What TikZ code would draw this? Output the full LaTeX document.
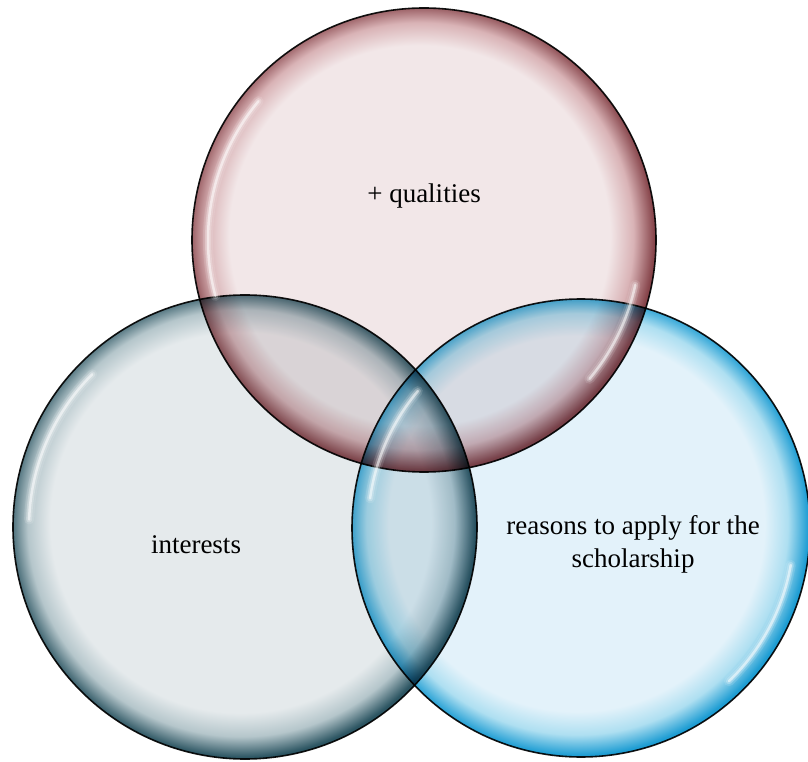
\documentclass[tikz,border=0pt]{standalone}
\usepackage{fontspec}
\setmainfont{Liberation Serif}

% glass colours: inner fill, soft rim, dark rim
\definecolor{roseFill}{HTML}{F2E7E8}
\definecolor{roseMid}{HTML}{D9B3B6}
\definecolor{roseDark}{HTML}{86444A}
\definecolor{slateFill}{HTML}{E5EAEC}
\definecolor{slateMid}{HTML}{B5C6CB}
\definecolor{slateDark}{HTML}{2C5562}
\definecolor{skyFill}{HTML}{E3F2FA}
\definecolor{skyMid}{HTML}{AEDFF1}
\definecolor{skyDark}{HTML}{1E9DD3}
\definecolor{rimLine}{HTML}{151515}

% radial shadings, lit slightly from the upper left
% (a shaded path is fitted to the inner 50bp square, so the rim sits at 25bp)
\pgfdeclareradialshading{roseglass}{\pgfpoint{-0.8bp}{0.8bp}}{%
  color(0bp)=(roseFill); color(20.5bp)=(roseFill); color(23bp)=(roseMid);
  color(25.2bp)=(roseDark); color(50bp)=(roseDark)}
\pgfdeclareradialshading{slateglass}{\pgfpoint{-0.8bp}{0.8bp}}{%
  color(0bp)=(slateFill); color(20.5bp)=(slateFill); color(23bp)=(slateMid);
  color(25.2bp)=(slateDark); color(50bp)=(slateDark)}
\pgfdeclareradialshading{skyglass}{\pgfpoint{-0.8bp}{0.8bp}}{%
  color(0bp)=(skyFill); color(20.5bp)=(skyFill); color(23bp)=(skyMid);
  color(25.2bp)=(skyDark); color(50bp)=(skyDark)}

\tikzset{
  bubble/.style={circle, inner sep=0pt, shade, draw=rimLine, line width=1.6pt,
                 blend mode=multiply},
  glintsoft/.style={white, line cap=round, line width=10pt, opacity=0.12},
  glintmid/.style={white, line cap=round, line width=6pt, opacity=0.25},
  glintcore/.style={white, line cap=round, line width=2.5pt, opacity=0.55},
  caption/.style={font=\fontsize{27}{33}\selectfont, text=black, align=center}
}

\begin{document}
\begin{tikzpicture}[x=1pt,y=1pt]
\useasboundingbox (0,0) rectangle (808,761);

% the three overlapping glass circles
\node[bubble, shading=roseglass,  minimum size=464pt] (top)   at (424,521) {};
\node[bubble, shading=slateglass, minimum size=464pt] (left)  at (245,234) {};
\node[bubble, shading=skyglass,   minimum size=458pt] (right) at (581,233) {};

% white glints along the inner rims
\foreach \c/\r/\a/\b in {top/216/140/195, top/216/-40/-12,
                         left/216/135/178,
                         right/213/140/172, right/213/-46/-10}{
  \foreach \s in {glintsoft,glintmid,glintcore}{
    \draw[\s] ([shift={(\a:\r)}]\c.center) arc[start angle=\a, end angle=\b, radius=\r];
  }
}

% labels
\node[caption] (qualities) at (424,565) {+ qualities};
\node[caption] (interests) at (196,216) {interests};
\node[caption] (reasons)   at (633,217) {reasons to apply for the\\scholarship};
\end{tikzpicture}
\end{document}
